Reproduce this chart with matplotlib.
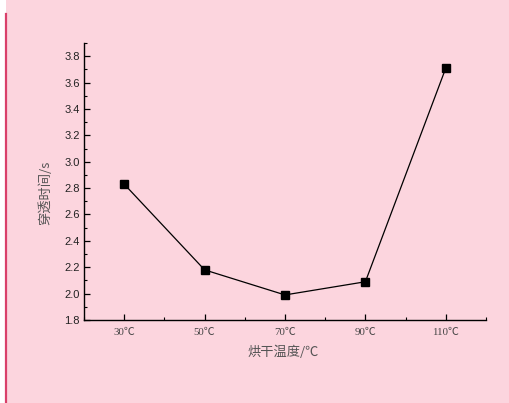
import matplotlib.pyplot as plt
from matplotlib.patches import Rectangle
from matplotlib.lines import Line2D
from matplotlib.ticker import MultipleLocator

categories = ["30℃", "50℃", "70℃", "90℃", "110℃"]
breakthrough_time = [2.83, 2.18, 1.99, 2.09, 3.71]

pink = "#fcd5de"
W, H = 509, 403

fig = plt.figure(figsize=(W / 100, H / 100), dpi=100, facecolor="white")
fig.add_artist(Rectangle((6 / W, 0), 1 - 6 / W, 1, transform=fig.transFigure,
                         facecolor=pink, edgecolor="none", zorder=-10))
fig.add_artist(Line2D([5.5 / W, 5.5 / W], [0, 1 - 14 / H], transform=fig.transFigure,
                      color="#d9406a", linewidth=1.6))

ax = fig.add_axes([84 / W, 1 - 320 / H, (486 - 84) / W, (320 - 43) / H])
ax.set_facecolor(pink)

x = list(range(len(categories)))
ax.plot(x, breakthrough_time, color="black", linewidth=0.9, marker="s",
        markersize=5.5, markerfacecolor="black", markeredgecolor="black")

ax.set_xlim(-0.5, 4.5)
ax.set_ylim(1.8, 3.9)
ax.set_xticks(x)
ax.set_xticklabels(categories, family=["Liberation Serif", "Noto Sans CJK SC"],
                   fontsize=7.8, color="#444444")
ax.xaxis.set_minor_locator(MultipleLocator(0.5))
ax.yaxis.set_major_locator(MultipleLocator(0.2))
ax.yaxis.set_minor_locator(MultipleLocator(0.1))
ax.set_yticklabels([f"{v:.1f}" for v in ax.get_yticks()],
                   family="Liberation Sans", fontsize=8, color="#222222")

for s in ["top", "right"]:
    ax.spines[s].set_visible(False)
for s in ["left", "bottom"]:
    ax.spines[s].set_linewidth(1.0)

ax.tick_params(which="major", direction="in", length=4, width=0.9)
ax.tick_params(which="minor", direction="in", length=2.5, width=0.8)
ax.tick_params(axis="y", which="major", pad=3)
ax.tick_params(axis="x", which="major", pad=6)

ax.set_xlabel("烘干温度/℃", family=["Noto Sans CJK SC", "DejaVu Sans"],
              fontsize=9.5, color="#555555")
ax.set_ylabel("穿透时间/s", family=["Noto Sans CJK SC", "DejaVu Sans"],
              fontsize=9.5, color="#555555")
ax.xaxis.set_label_coords(0.495, -0.115)
ax.yaxis.set_label_coords(-0.095, 0.46)
ax.xaxis.label.set_va("center")
ax.yaxis.label.set_va("center")

fig.savefig("out.png", dpi=100, facecolor=fig.get_facecolor())
